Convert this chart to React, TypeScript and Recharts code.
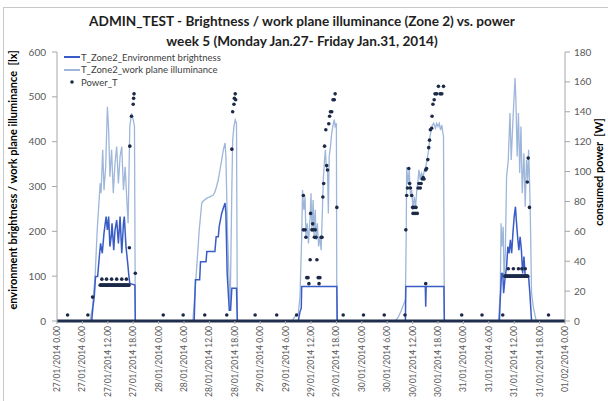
import React from 'react';
import { ComposedChart, Line, Scatter, XAxis, YAxis } from 'recharts';

// ---- axis ticks ----
const tickHours = [0, 6, 12, 18, 24, 30, 36, 42, 48, 54, 60, 66, 72, 78, 84, 90, 96, 102, 108, 114, 120];
const tickLabels = [
  '27/01/2014 0.00', '27/01/2014 6.00', '27/01/2014 12.00', '27/01/2014 18.00',
  '28/01/2014 0.00', '28/01/2014 6.00', '28/01/2014 12.00', '28/01/2014 18.00',
  '29/01/2014 0.00', '29/01/2014 6.00', '29/01/2014 12.00', '29/01/2014 18.00',
  '30/01/2014 0.00', '30/01/2014 6.00', '30/01/2014 12.00', '30/01/2014 18.00',
  '31/01/2014 0.00', '31/01/2014 6.00', '31/01/2014 12.00', '31/01/2014 18.00',
  '01/02/2014 0.00',
];
const luxTicks = [0, 100, 200, 300, 400, 500, 600];
const wattTicks = [0, 20, 40, 60, 80, 100, 120, 140, 160, 180];

// ---- T_Zone2_Environment brightness (hours since 27/01 0:00, lux) ----
const envHours = [
  0,
  8.2, 8.5, 8.8, 9.1, 9.6, 10.0, 10.3, 10.7, 11.1, 11.6, 11.9, 12.2, 12.5, 12.8, 13.0, 13.4, 13.7, 14.1, 14.5, 14.9, 15.3, 15.7, 15.9, 16.3, 16.7, 17.0, 17.2, 18.4, 18.5,
  32.4, 32.7, 33.7, 33.9, 35.2, 35.4, 37.3, 37.6, 38.1, 38.3, 38.9, 39.3, 39.7, 39.9, 40.2, 40.7, 41.0, 41.3, 42.4, 42.6,
  57.0, 57.4, 57.7, 57.8, 66.1, 66.2,
  82.3, 82.4, 87.0, 87.1, 87.2, 91.4, 91.5,
  104.5, 104.7, 105.0, 105.3, 105.5, 105.8, 106.2, 106.5, 106.8, 107.1, 107.4, 107.7, 108.0, 108.3, 108.5, 108.8, 109.1, 109.4, 109.7, 110.0, 110.3, 110.6, 111.4, 111.7, 112.1,
  120,
];
const envLux = [
  0,
  0, 32, 54, 99, 99, 144, 173, 151, 196, 233, 203, 233, 166, 188, 218, 158, 203, 225, 173, 233, 151, 218, 233, 166, 129, 99, 84, 80, 0,
  0, 92, 92, 132, 132, 155, 155, 188, 188, 210, 240, 252, 263, 240, 106, 24, 24, 73, 73, 0,
  0, 21, 28, 77, 77, 0,
  0, 77, 77, 32, 77, 77, 0,
  0, 47, 106, 106, 62, 92, 121, 166, 151, 181, 151, 196, 233, 255, 225, 188, 158, 188, 158, 106, 144, 99, 99, 62, 0,
  0,
];

// ---- T_Zone2_work plane illuminance (hours, lux) ----
const wpHours = [
  0,
  7.8, 8.4, 9.0, 9.5, 10.2, 10.4, 10.8, 11.1, 11.5, 11.9, 12.2, 12.5, 12.9, 13.3, 13.7, 14.1, 14.5, 14.9, 15.3, 15.7, 16.1, 16.5, 16.8, 17.2, 17.6, 18.0, 18.3, 18.5,
  32.1, 32.8, 33.6, 34.2, 34.5, 35.4, 36.1, 36.9, 37.3, 37.7, 38.1, 38.5, 38.9, 39.3, 39.7, 39.9, 40.3, 40.9, 41.3, 41.5, 41.8, 42.1, 42.4, 42.6,
  55.5, 56.2, 57.0, 57.4, 57.8, 58.0, 58.3, 58.6, 58.8, 59.1, 59.4, 59.8, 60.0, 60.2, 60.5, 60.7, 61.0, 61.2, 61.5, 61.8, 62.1, 62.4, 62.7, 62.9, 63.2, 63.4, 63.6, 63.9, 64.1, 64.3, 64.6, 64.9, 65.2, 65.5, 65.7, 66.0, 66.1,
  79.9, 80.7, 81.4, 82.0, 82.3, 82.5, 82.6, 82.9, 83.2, 83.5, 83.8, 84.1, 84.4, 84.7, 85.0, 85.3, 85.5, 85.8, 86.1, 86.5, 86.8, 87.1, 87.4, 87.8, 88.1, 88.4, 88.7, 89.0, 89.4, 89.7, 90.0, 90.3, 90.6, 90.9, 91.3, 91.5,
  104.3, 104.7, 104.9, 105.1, 105.4, 105.6, 105.9, 106.2, 106.6, 107.0, 107.3, 107.6, 107.9, 108.2, 108.4, 108.7, 109.0, 109.3, 109.6, 109.9, 110.3, 110.6, 110.9, 111.2, 111.4, 111.6, 111.8, 112.1, 112.5, 113.2,
  120,
];
const wpLux = [
  0,
  0, 32, 99, 203, 307, 285, 382, 292, 344, 478, 426, 322, 382, 285, 352, 389, 307, 367, 389, 292, 344, 270, 218, 434, 463, 449, 434, 0,
  0, 92, 203, 263, 267, 274, 277, 281, 288, 300, 315, 337, 359, 382, 397, 367, 188, 25, 292, 404, 434, 449, 441, 0,
  0, 10, 17, 54, 188, 292, 248, 277, 188, 218, 173, 233, 285, 203, 270, 188, 248, 181, 218, 166, 188, 158, 248, 315, 359, 382, 344, 337, 240, 367, 389, 419, 437, 449, 434, 441, 0,
  0, 10, 25, 40, 47, 200, 344, 307, 337, 277, 292, 248, 277, 255, 292, 315, 337, 315, 330, 322, 337, 344, 359, 382, 411, 426, 437, 441, 430, 441, 434, 441, 426, 437, 411, 0,
  0, 62, 218, 166, 210, 99, 151, 322, 359, 464, 359, 426, 486, 542, 493, 367, 464, 330, 434, 285, 374, 255, 359, 315, 382, 322, 240, 62, 32, 0,
  0,
];

// ---- Power_T (hours, W) ----
const powerHours = [
  2.5, 7.3, 8.4,
  10.2, 10.4, 10.6, 10.8, 11.0, 11.2, 11.4, 11.6, 11.8, 12.0, 12.2, 12.4, 12.6, 12.8, 13.0, 13.2, 13.4, 13.6, 13.8, 14.0, 14.2, 14.4, 14.6, 14.8, 15.0, 15.2, 15.4, 15.6, 15.8, 16.0, 16.2, 16.4, 16.6, 16.8, 17.0,
  10.6, 11.7, 12.9, 14.1, 15.3, 16.4,
  17.1, 17.2, 17.6, 18.0, 18.1, 18.2, 18.5,
  25.1, 29.8, 34.9, 40.1,
  41.3, 41.5, 41.8, 41.9, 42.1, 42.2,
  46.8, 51.9, 56.6,
  58.2, 58.2, 58.6, 58.8, 59.0, 59.3, 59.5, 59.8, 59.9, 60.2, 60.4, 60.5, 60.8, 61.0, 61.2, 61.4, 61.7, 61.9, 62.1, 62.4, 62.6, 62.8, 63.0, 63.2, 63.5, 63.7, 63.9, 64.2, 64.4, 64.6, 64.9, 65.2, 65.5, 65.7, 66.1,
  67.6, 72.4, 77.3, 82.2,
  82.4, 82.6, 82.8, 83.1, 83.3, 83.5, 83.8, 84.0, 84.1, 84.4, 84.6, 84.8, 85.1, 85.3, 85.5, 85.8, 86.0, 86.3, 86.5, 86.7, 87.1, 87.1, 87.3, 87.6, 87.8, 88.0, 88.2, 88.5, 88.6, 88.8, 89.1, 89.3, 89.7, 90.1, 90.5, 90.9, 91.3,
  95.6, 100.4, 105.3,
  105.8, 106.0, 106.2, 106.4, 106.6, 106.8, 107.0, 107.2, 107.4, 107.6, 107.8, 108.0, 108.2, 108.4, 108.6, 108.8, 109.0, 109.2, 109.4, 109.6, 109.8, 110.0, 110.2, 110.4, 110.6, 110.8, 111.0, 111.2,
  106.6, 107.8, 109.0, 109.8, 110.6,
  111.1, 111.3, 111.6,
  116.1,
];
const powerWatts = [
  4, 4, 16,
  24, 24, 24, 24, 24, 24, 24, 24, 24, 24, 24, 24, 24, 24, 24, 24, 24, 24, 24, 24, 24, 24, 24, 24, 24, 24, 24, 24, 24, 24, 24, 24, 24, 24, 24,
  28, 28, 28, 28, 28, 28,
  49, 117, 137, 145, 149, 152, 32,
  4, 4, 4, 4,
  115, 140, 145, 149, 152, 148,
  4, 4, 4,
  61, 84, 61, 56, 29, 29, 25, 41, 72, 61, 65, 61, 56, 61, 56, 41, 29, 25, 29, 56, 56, 83, 92, 117, 128, 104, 101, 132, 137, 140, 140, 148, 148, 152, 76,
  4, 4, 4, 4,
  61, 84, 89, 102, 92, 89, 84, 76, 72, 76, 72, 76, 72, 89, 92, 89, 92, 95, 96, 95, 25, 101, 102, 108, 116, 121, 128, 129, 137, 145, 148, 152, 152, 157, 152, 152, 157,
  4, 4, 4,
  30, 30, 30, 30, 30, 30, 30, 30, 30, 30, 30, 30, 30, 30, 30, 30, 30, 30, 30, 30, 30, 30, 30, 30, 30, 30, 30, 30,
  35, 35, 35, 35, 35,
  93, 109, 76,
  4,
];

const envData = envHours.map((t, i) => ({ t, v: envLux[i] }));
const wpData = wpHours.map((t, i) => ({ t, v: wpLux[i] }));
const powerData = powerHours.map((t, i) => ({ t, p: powerWatts[i] }));

const ENV_COLOR = '#3A5CC6';
const WP_COLOR = '#9DB6DA';
const POWER_COLOR = '#1C2A48';
const AXIS_GRAY = '#A6A6A6';
const TEXT_GRAY = '#595959';
const FONT = 'Lato, "Open Sans", sans-serif';

const legendItems = [
  { name: 'T_Zone2_Environment brightness', color: ENV_COLOR, kind: 'line' },
  { name: 'T_Zone2_work plane illuminance', color: WP_COLOR, kind: 'line' },
  { name: 'Power_T', color: POWER_COLOR, kind: 'dot' },
];

const XTick = (props: any) => {
  const { x, y, payload } = props;
  const i = tickHours.indexOf(payload.value);
  const label = i >= 0 ? tickLabels[i] : '';
  const yy = y;
  return (
    <text
      x={x}
      y={yy}
      transform={`rotate(-90, ${x}, ${yy})`}
      textAnchor="end"
      dy="0.35em"
      fontSize={8.5}
      fill={TEXT_GRAY}
      fontFamily={FONT}
    >
      {label}
    </text>
  );
};

const Dot = (props: any) => {
  const { cx, cy } = props;
  if (cx == null || cy == null) return null;
  return <circle cx={cx} cy={cy} r={1.8} fill={POWER_COLOR} />;
};

export default function App() {
  return (
    <div style={{ position: 'absolute', left: 0, top: 0, width: 608, height: 401, background: '#fff', overflow: 'hidden', fontFamily: FONT }}>
      <div style={{ position: 'absolute', left: 3, top: 7, width: 640, height: 440, border: '1px solid #C8C8C8' }} />
      <div style={{ position: 'absolute', left: 0, top: 0 }}>
        <ComposedChart width={608} height={401} margin={{ top: 52, right: 13, bottom: 5, left: 17 }}>
          <XAxis
            type="number"
            dataKey="t"
            domain={[0, 120]}
            ticks={tickHours}
            interval={0}
            height={75}
            tick={<XTick />}
            tickSize={3}
            tickMargin={2}
            axisLine={{ stroke: '#1F2E4D', strokeWidth: 3 }}
            tickLine={{ stroke: AXIS_GRAY }}
          />
          <YAxis
            yAxisId="left"
            type="number"
            domain={[0, 600]}
            ticks={luxTicks}
            width={40}
            tickSize={5}
            tickMargin={6}
            axisLine={{ stroke: AXIS_GRAY }}
            tickLine={{ stroke: AXIS_GRAY }}
            tick={{ fontSize: 10, fill: TEXT_GRAY, fontFamily: FONT }}
          />
          <YAxis
            yAxisId="right"
            orientation="right"
            type="number"
            dataKey="p"
            domain={[0, 180]}
            ticks={wattTicks}
            width={30}
            tickSize={5}
            tickMargin={4}
            axisLine={{ stroke: AXIS_GRAY }}
            tickLine={{ stroke: AXIS_GRAY }}
            tick={{ fontSize: 10, fill: TEXT_GRAY, fontFamily: FONT, textAnchor: 'start' }}
          />
          <Line
            yAxisId="left"
            data={wpData}
            dataKey="v"
            name="T_Zone2_work plane illuminance"
            type="linear"
            stroke={WP_COLOR}
            strokeWidth={1.3}
            dot={false}
            activeDot={false}
            isAnimationActive={false}
          />
          <Line
            yAxisId="left"
            data={envData}
            dataKey="v"
            name="T_Zone2_Environment brightness"
            type="linear"
            stroke={ENV_COLOR}
            strokeWidth={1.5}
            dot={false}
            activeDot={false}
            isAnimationActive={false}
          />
          <Scatter
            yAxisId="right"
            data={powerData}
            dataKey="p"
            name="Power_T"
            fill={POWER_COLOR}
            shape={<Dot />}
            isAnimationActive={false}
          />
        </ComposedChart>
      </div>

      {/* title */}
      <div style={{ position: 'absolute', left: 0, top: 11, width: 604, textAlign: 'center', fontSize: 13.6, fontWeight: 700, color: '#1E1E1E', lineHeight: '20px' }}>
        <div>ADMIN_TEST - Brightness / work plane illuminance (Zone 2) vs. power</div>
        <div>week 5 (Monday Jan.27- Friday Jan.31, 2014)</div>
      </div>

      {/* legend */}
      <div style={{ position: 'absolute', left: 64, top: 51 }}>
        {legendItems.map((it) => (
          <div key={it.name} style={{ display: 'flex', alignItems: 'center', height: 12.5, fontSize: 9.5, color: '#404040', whiteSpace: 'nowrap' }}>
            <svg width={16} height={10} style={{ marginRight: 1 }}>
              {it.kind === 'line' ? (
                <line x1={0} y1={5} x2={16} y2={5} stroke={it.color} strokeWidth={2} />
              ) : (
                <circle cx={8} cy={5} r={1.8} fill={it.color} />
              )}
            </svg>
            <span>{it.name}</span>
          </div>
        ))}
      </div>

      {/* axis titles */}
      <div style={{ position: 'absolute', left: 12, top: 180, transform: 'translate(-50%, -50%) rotate(-90deg)', whiteSpace: 'pre', fontSize: 11, fontWeight: 700, color: '#000' }}>
        {'environment brightness / work plane illuminance  [lx]'}
      </div>
      <div style={{ position: 'absolute', left: 598, top: 172, transform: 'translate(-50%, -50%) rotate(-90deg)', whiteSpace: 'pre', fontSize: 11, fontWeight: 700, color: '#000' }}>
        {'consumed power  [W]'}
      </div>
    </div>
  );
}
